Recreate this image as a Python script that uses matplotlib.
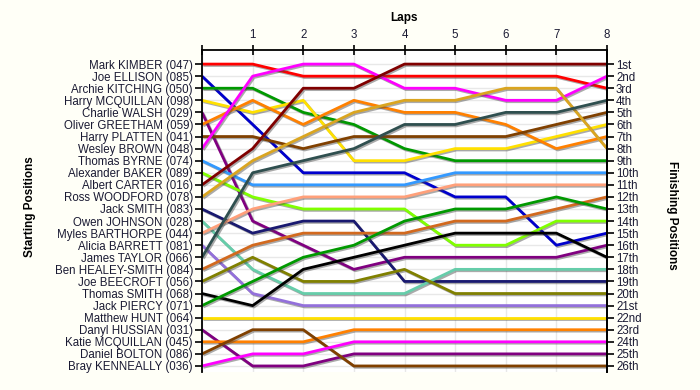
import matplotlib
matplotlib.use('Agg')
import matplotlib.pyplot as plt
import matplotlib.patheffects as pe

# drivers in starting order, with their position after each lap (lap 0 = grid)
drivers = ['Mark KIMBER (047)', 'Joe ELLISON (085)', 'Archie KITCHING (050)',
           'Harry MCQUILLAN (098)', 'Charlie WALSH (029)', 'Oliver GREETHAM (059)',
           'Harry PLATTEN (041)', 'Wesley BROWN (048)', 'Thomas BYRNE (074)',
           'Alexander BAKER (089)', 'Albert CARTER (016)', 'Ross WOODFORD (078)',
           'Jack SMITH (083)', 'Owen JOHNSON (028)', 'Myles BARTHORPE (044)',
           'Alicia BARRETT (081)', 'James TAYLOR (066)', 'Ben HEALEY-SMITH (084)',
           'Joe BEECROFT (056)', 'Thomas SMITH (068)', 'Jack PIERCY (071)',
           'Matthew HUNT (064)', 'Danyl HUSSIAN (031)', 'Katie MCQUILLAN (045)',
           'Daniel BOLTON (086)', 'Bray KENNEALLY (036)']

colors = ['#FF0000', '#0000CD', '#009900', '#FFE000', '#800080', '#FF8000',
          '#804000', '#FF00FF', '#3399FF', '#80FF00', '#800000', '#DAA520',
          '#191970', '#66CDAA', '#FFA07A', '#9370DB', '#2F4F4F', '#D2691E',
          '#808000', '#000000', '#009900', '#FFE000', '#800080', '#FF8000',
          '#804000', '#FF00FF']

positions = [
    [1, 1, 2, 2, 2, 2, 2, 2, 3],
    [2, 6, 10, 10, 10, 12, 12, 16, 15],
    [3, 3, 5, 6, 8, 9, 9, 9, 9],
    [4, 5, 4, 9, 9, 8, 8, 7, 6],
    [5, 14, 16, 18, 17, 17, 17, 17, 16],
    [6, 4, 6, 4, 5, 5, 6, 8, 7],
    [7, 7, 8, 7, 7, 7, 7, 6, 5],
    [8, 2, 1, 1, 3, 3, 4, 4, 2],
    [9, 11, 11, 11, 11, 10, 10, 10, 10],
    [10, 12, 13, 13, 13, 16, 16, 14, 14],
    [11, 8, 3, 3, 1, 1, 1, 1, 1],
    [12, 9, 7, 5, 4, 4, 3, 3, 8],
    [13, 15, 14, 14, 19, 19, 19, 19, 19],
    [14, 18, 20, 20, 20, 18, 18, 18, 18],
    [15, 13, 12, 12, 12, 11, 11, 11, 11],
    [16, 20, 21, 21, 21, 21, 21, 21, 21],
    [17, 10, 9, 8, 6, 6, 5, 5, 4],
    [18, 16, 15, 15, 15, 14, 14, 13, 12],
    [19, 17, 19, 19, 18, 20, 20, 20, 20],
    [20, 21, 18, 17, 16, 15, 15, 15, 17],
    [21, 19, 17, 16, 14, 13, 13, 12, 13],
    [22, 22, 22, 22, 22, 22, 22, 22, 22],
    [23, 26, 26, 25, 25, 25, 25, 25, 25],
    [24, 24, 24, 23, 23, 23, 23, 23, 23],
    [25, 23, 23, 26, 26, 26, 26, 26, 26],
    [26, 25, 25, 24, 24, 24, 24, 24, 24],
]

laps = list(range(9))
lap_labels = ['', '1', '2', '3', '4', '5', '6', '7', '8']
finish_labels = ['1st', '2nd', '3rd', '4th', '5th', '6th', '7th', '8th', '9th',
                 '10th', '11th', '12th', '13th', '14th', '15th', '16th', '17th',
                 '18th', '19th', '20th', '21st', '22nd', '23rd', '24th', '25th', '26th']

plt.rcParams['font.family'] = ['Liberation Sans', 'DejaVu Sans']
txt = '#1A1A33'

fig = plt.figure(figsize=(7, 3.9), dpi=100, facecolor='#FFFFF7')
ax = fig.add_axes([202 / 700, 18 / 390, 405 / 700, 322 / 390])
ax.set_facecolor('white')

shadow = [pe.SimpleLineShadow(offset=(1, -1), shadow_color='#444444', alpha=0.45), pe.Normal()]
for name, c, pos in zip(drivers, colors, positions):
    ax.plot(laps, pos, color=c, lw=2, path_effects=shadow, solid_capstyle='butt')

ax.set_xlim(0, 8)
ax.set_ylim(26.5, 1 - 14 / 12)
ax.xaxis.tick_top()
ax.set_xticks(laps)
ax.set_xticklabels(lap_labels)
ax.set_yticks(range(1, 27))
ax.set_yticklabels(drivers)
ax.tick_params(axis='y', length=5, width=1.2, pad=1.5, labelsize=8.3, labelcolor=txt)
ax.tick_params(axis='x', direction='inout', length=7, width=1.2, pad=3, labelsize=8.3, labelcolor=txt)
ax.grid(color='#E8E8E8', lw=1)
ax.set_axisbelow(True)
ax.spines['bottom'].set_visible(False)
for s in ['left', 'right', 'top']:
    ax.spines[s].set_linewidth(1.3)

ax2 = ax.twinx()
ax2.set_ylim(ax.get_ylim())
ax2.set_yticks(range(1, 27))
ax2.set_yticklabels(finish_labels)
ax2.tick_params(axis='y', length=5, width=1.2, pad=1.5, labelsize=8.3, labelcolor=txt)
for s in ['bottom', 'top', 'left']:
    ax2.spines[s].set_visible(False)
ax2.spines['right'].set_linewidth(1.3)

fig.text(404 / 700, 1 - 18 / 390, 'Laps', ha='center', va='center', weight='bold', fontsize=8.5)
fig.text(30 / 700, 1 - 207 / 390, 'Starting Positions', rotation=90, ha='center', va='center',
         weight='bold', fontsize=8.5)
fig.text(672 / 700, 1 - 215 / 390, 'Finishing Positions', rotation=270, ha='center', va='center',
         weight='bold', fontsize=8.5)

fig.savefig('out.png', dpi=100, facecolor=fig.get_facecolor())
